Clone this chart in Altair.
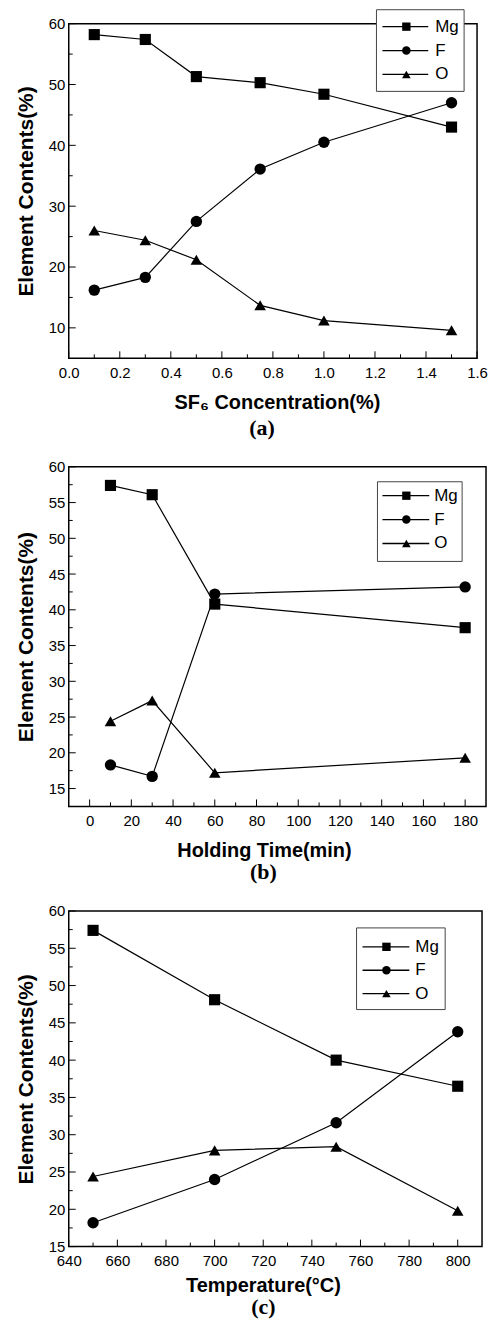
import altair as alt
import pandas as pd

elements = ["Mg", "F", "O"]
shapes = ["square", "circle", "triangle-up"]
marker_sizes = [125, 135, 200]
legend_sizes = [70, 75, 110]

# Panel (a): SF6 concentration
a_x = [0.1, 0.3, 0.5, 0.75, 1.0, 1.5]
a_mg = [58.2, 57.4, 51.3, 50.3, 48.4, 43.0]
a_f = [16.2, 18.3, 27.5, 36.1, 40.5, 47.0]
a_o = [26.0, 24.4, 21.2, 13.7, 11.2, 9.6]
a_xmaj = [0.0, 0.2, 0.4, 0.6, 0.8, 1.0, 1.2, 1.4, 1.6]
a_xmin = [0.1, 0.3, 0.5, 0.7, 0.9, 1.1, 1.3, 1.5]
a_ymaj = [10, 20, 30, 40, 50, 60]
a_ymin = [15, 25, 35, 45, 55]

# Panel (b): holding time
b_x = [10, 30, 60, 180]
b_mg = [57.4, 56.1, 40.8, 37.5]
b_f = [18.3, 16.7, 42.2, 43.2]
b_o = [24.4, 27.3, 17.2, 19.3]
b_xmaj = [0, 20, 40, 60, 80, 100, 120, 140, 160, 180]
b_xmin = [10, 30, 50, 70, 90, 110, 130, 150, 170]
b_ymaj = [15, 20, 25, 30, 35, 40, 45, 50, 55, 60]
b_ymin = [17.5, 22.5, 27.5, 32.5, 37.5, 42.5, 47.5, 52.5, 57.5]

# Panel (c): temperature
c_x = [650, 700, 750, 800]
c_mg = [57.4, 48.1, 40.0, 36.5]
c_f = [18.2, 24.0, 31.6, 43.8]
c_o = [24.4, 27.9, 28.4, 19.8]
c_xmaj = [640, 660, 680, 700, 720, 740, 760, 780, 800]
c_xmin = [650, 670, 690, 710, 730, 750, 770, 790]
c_ymaj = [15, 20, 25, 30, 35, 40, 45, 50, 55, 60]
c_ymin = [17.5, 22.5, 27.5, 32.5, 37.5, 42.5, 47.5, 52.5, 57.5]

FONT = "Liberation Sans"
shape_scale = alt.Scale(domain=elements, range=shapes)


def panel(xs, mg, f, o, xdom, ydom, xmaj, xmin, ymaj, ymin, xfmt, xtitle,
          title_x, title_pad, caption, cap_dx, cap_off, W, H, leg):
    rows = []
    for name, vals in zip(elements, [mg, f, o]):
        for xv, yv in zip(xs, vals):
            rows.append({"x": xv, "value": yv, "element": name})
    df = pd.DataFrame(rows)
    xsc = alt.Scale(domain=xdom, nice=False, zero=False)
    ysc = alt.Scale(domain=ydom, nice=False, zero=False)
    xax = alt.Axis(values=xmaj, format=xfmt, ticks=False, domain=False, grid=False,
                   labelFontSize=15, labelPadding=7, labelFlush=False, labelOverlap=False,
                   title=xtitle, titleFontSize=20, titleFontWeight="bold",
                   titlePadding=title_pad, titleX=title_x, titleAlign="center")
    yax = alt.Axis(values=ymaj, format="d", ticks=False, domain=False, grid=False,
                   labelFontSize=15, labelPadding=4, labelFlush=False, labelOverlap=False,
                   title="Element Contents(%)", titleFontSize=21,
                   titleFontWeight="bold", titlePadding=12)
    base = alt.Chart(df)
    lines = base.mark_line(color="black", strokeWidth=1.2).encode(
        x=alt.X("x:Q", scale=xsc, axis=xax),
        y=alt.Y("value:Q", scale=ysc, axis=yax),
        detail="element:N",
    )
    pts = base.mark_point(filled=True, color="black", opacity=1).encode(
        x=alt.X("x:Q", scale=xsc, axis=xax),
        y=alt.Y("value:Q", scale=ysc, axis=yax),
        shape=alt.Shape("element:N", scale=shape_scale, legend=None),
        size=alt.Size("element:N", scale=alt.Scale(domain=elements, range=marker_sizes), legend=None),
    )
    xmajc = alt.Chart(pd.DataFrame({"v": xmaj})).mark_rule(color="black", strokeWidth=1).encode(
        x=alt.X("v:Q", scale=xsc, axis=xax), y=alt.value(H), y2=alt.value(H - 7))
    xminc = alt.Chart(pd.DataFrame({"v": xmin})).mark_rule(color="black", strokeWidth=1).encode(
        x=alt.X("v:Q", scale=xsc, axis=xax), y=alt.value(H), y2=alt.value(H - 4))
    ymajc = alt.Chart(pd.DataFrame({"v": ymaj})).mark_rule(color="black", strokeWidth=1).encode(
        y=alt.Y("v:Q", scale=ysc, axis=yax), x=alt.value(0), x2=alt.value(7))
    yminc = alt.Chart(pd.DataFrame({"v": ymin})).mark_rule(color="black", strokeWidth=1).encode(
        y=alt.Y("v:Q", scale=ysc, axis=yax), x=alt.value(0), x2=alt.value(4))
    main = alt.layer(lines, pts, xmajc, xminc, ymajc, yminc)

    # legend box drawn inside the frame (point scale with default 0.5 padding)
    s = (leg["y2"] - leg["y0"]) / 2.0
    one = pd.DataFrame({"k": [0]})
    ldf = pd.DataFrame({"element": elements})
    lysc = alt.Scale(domain=elements, range=[leg["y0"] - s / 2, leg["y2"] + s / 2])
    box = alt.Chart(one).mark_rect(fill="white", stroke="#444", strokeWidth=1).encode(
        x=alt.value(leg["bx0"]), x2=alt.value(leg["bx1"]),
        y=alt.value(leg["by0"]), y2=alt.value(leg["by1"]))
    lrule = alt.Chart(ldf).mark_rule(color="black", strokeWidth=1.3).encode(
        x=alt.value(leg["lx0"]), x2=alt.value(leg["lx1"]),
        y=alt.Y("element:N", scale=lysc, axis=None))
    lpt = alt.Chart(ldf).mark_point(filled=True, color="black", opacity=1).encode(
        x=alt.value(leg["mx"]),
        y=alt.Y("element:N", scale=lysc, axis=None),
        shape=alt.Shape("element:N", scale=shape_scale, legend=None),
        size=alt.Size("element:N", scale=alt.Scale(domain=elements, range=legend_sizes), legend=None),
    )
    ltxt = alt.Chart(ldf).mark_text(align="left", baseline="middle", fontSize=17,
                                    font=FONT, color="black").encode(
        x=alt.value(leg["tx"]),
        y=alt.Y("element:N", scale=lysc, axis=None),
        text="element:N")
    legend = alt.layer(box, lrule, lpt, ltxt)

    return alt.layer(main, legend).resolve_scale(y="independent", size="independent").properties(
        width=W, height=H,
        title=alt.TitleParams(caption, orient="bottom", font="Liberation Serif",
                              fontSize=22, fontWeight="bold", color="black",
                              anchor="middle", frame="group", dx=cap_dx, offset=cap_off),
    )


pa = panel(a_x, a_mg, a_f, a_o, [0, 1.6], [5, 60], a_xmaj, a_xmin, a_ymaj, a_ymin,
           ".1f", "SF₆ Concentration(%)", 209, 12.5, "(a)", -11, 5.5, 410, 336,
           dict(bx0=309, bx1=397, by0=-14, by1=68, y0=3, y2=51,
                lx0=315, lx1=361, mx=339, tx=368))
pb = panel(b_x, b_mg, b_f, b_o, [-10, 190], [12.5, 60], b_xmaj, b_xmin, b_ymaj, b_ymin,
           "d", "Holding Time(min)", 196, 12, "(b)", -14, 1.5, 419, 341,
           dict(bx0=310, bx1=395, by0=15, by1=95, y0=29, y2=77,
                lx0=315, lx1=362, mx=339, tx=367))
pc = panel(c_x, c_mg, c_f, c_o, [640, 810], [15, 60], c_xmaj, c_xmin, c_ymaj, c_ymin,
           "d", "Temperature(°C)", 195, 7.5, "(c)", -12, 1.5, 415, 337,
           dict(bx0=289, bx1=378, by0=17, by1=99, y0=36, y2=83,
                lx0=295, lx1=342, mx=319, tx=348))

chart = alt.vconcat(pa, pb, pc, spacing=19).properties(
    padding={"top": -3, "left": 6, "right": 0, "bottom": 0}
).configure_view(stroke="black", strokeWidth=1.5).configure_axis(
    labelFont=FONT, titleFont=FONT, labelColor="black", titleColor="black",
    labelOverlap=False
)

chart.save("out.html", embed_options={"renderer": "svg", "actions": False})
